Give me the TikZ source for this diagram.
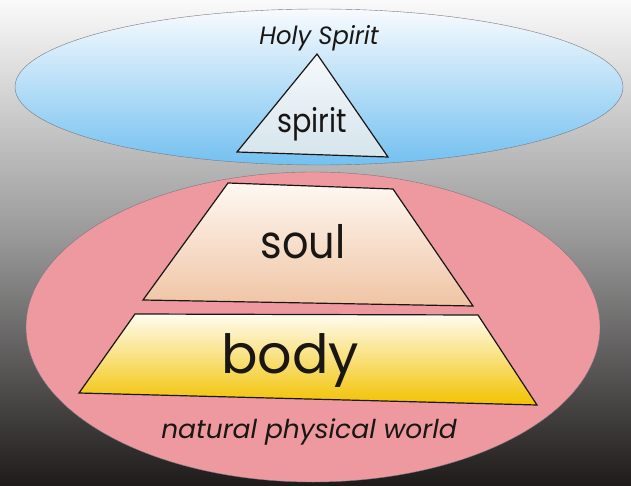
\documentclass[tikz,border=0pt]{standalone}
\usepackage{fontspec}
\setmainfont{Poppins}
\definecolor{bgtop}{RGB}{250,250,250}
\definecolor{bgmid}{RGB}{150,150,150}
\definecolor{bgbot}{RGB}{30,27,26}
\definecolor{skytop}{RGB}{248,251,254}
\definecolor{skybot}{RGB}{115,192,240}
\definecolor{pinkfill}{RGB}{238,152,160}
\definecolor{edgegray}{RGB}{120,120,130}
\definecolor{tritop}{RGB}{246,249,252}
\definecolor{tribot}{RGB}{214,228,236}
\definecolor{soultop}{RGB}{254,248,242}
\definecolor{soulbot}{RGB}{240,196,164}
\definecolor{bodytop}{RGB}{255,252,240}
\definecolor{bodymid}{RGB}{250,222,120}
\definecolor{bodybot}{RGB}{242,194,0}
\definecolor{ink}{RGB}{25,22,20}
\tikzset{
  x=1pt, y=-1pt,
  shapeline/.style={draw=ink, line width=1.2pt, line join=miter},
  label/.style={text=ink, inner sep=0pt, anchor=center},
}
\begin{document}
\begin{tikzpicture}
\useasboundingbox (0,0) rectangle (631,486);
% background
\shade[top color=bgtop, bottom color=bgbot, middle color=bgmid] (0,0) rectangle (631,486);
% blue ellipse (Holy Spirit realm)
\shade[top color=skytop, bottom color=skybot, draw=edgegray, line width=0.4pt]
  (319,87) ellipse [x radius=304, y radius=78];
% pink ellipse (natural world)
\filldraw[fill=pinkfill, draw=edgegray, line width=0.4pt]
  (313,327) ellipse [x radius=287, y radius=155];
% triangle spirit
\coordinate (tA) at (317,54);
\coordinate (tL) at (237,152);
\coordinate (tR) at (388,157);
\shade[top color=tritop, bottom color=tribot] (tA) -- (tR) -- (tL) -- cycle;
\draw[shapeline] (tA) -- (tR) -- (tL) -- cycle;
% soul trapezoid
\coordinate (s1) at (228,183);
\coordinate (s2) at (393,189);
\coordinate (s3) at (473,306);
\coordinate (s4) at (143,300);
\shade[top color=soultop, bottom color=soulbot] (s1) -- (s2) -- (s3) -- (s4) -- cycle;
\draw[shapeline] (s1) -- (s2) -- (s3) -- (s4) -- cycle;
% body trapezoid
\coordinate (b1) at (135,314);
\coordinate (b2) at (478,315);
\coordinate (b3) at (537,405);
\coordinate (b4) at (79,393);
\shade[top color=bodytop, middle color=bodymid, bottom color=bodybot] (b1) -- (b2) -- (b3) -- (b4) -- cycle;
\draw[shapeline] (b1) -- (b2) -- (b3) -- (b4) -- cycle;
% texts
\node[label, font=\fontsize{25}{28}\selectfont\itshape] (holy) at (319,38) {\scalebox{0.97}[1]{Holy Spirit}};
\node[label, font=\fontsize{33}{36}\selectfont] (spirit) at (312,124) {\scalebox{0.87}[1]{spirit}};
\node[label, font=\fontsize{46}{50}\selectfont] (soul) at (303,242) {\scalebox{0.9}[1]{soul}};
\node[label, font=\fontsize{54}{58}\selectfont] (body) at (290,360) {body};
\node[label, font=\fontsize{26}{30}\selectfont\itshape] (world) at (309,432) {\scalebox{1.02}[1]{natural physical world}};
\end{tikzpicture}
\end{document}
